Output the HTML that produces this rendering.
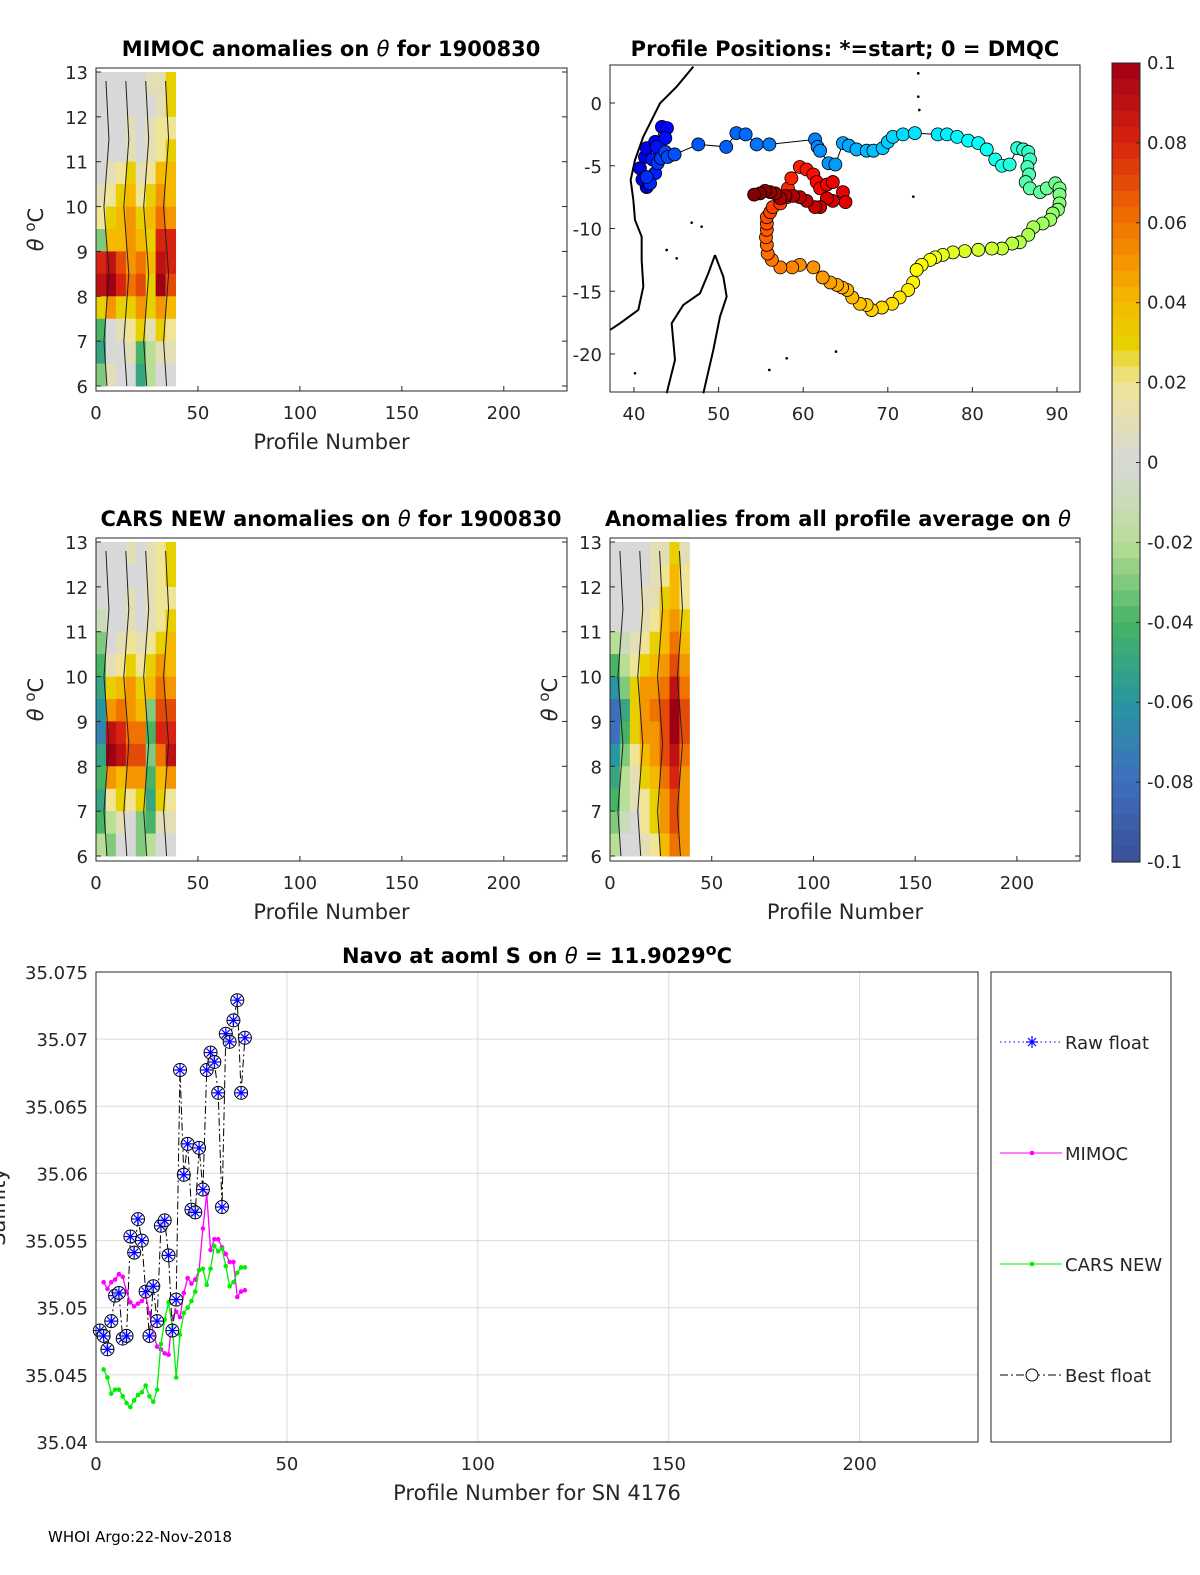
<!DOCTYPE html>
<html><head><meta charset="utf-8">
<style>
html,body{margin:0;padding:0;background:#fff;width:1200px;height:1575px;overflow:hidden}
svg{display:block;font-family:"DejaVu Sans","Liberation Sans",sans-serif}
.tk{font-size:18px;fill:#262626}
.ttl{font-size:21px;font-weight:bold;fill:#000}
.lab{font-size:21px;fill:#262626}
</style></head><body>
<svg id="fig" width="1200" height="1575" viewBox="0 0 1200 1575" xmlns="http://www.w3.org/2000/svg">
<g id="p1"></g>
<g id="p2"></g>
<g id="p3"></g>
<g id="p4"></g>
<g id="cb"></g>
<g id="p5"></g>
<text x="48" y="1542" font-size="15" fill="#000">WHOI Argo:22-Nov-2018</text>
</svg>
<script>
// ---- data ----
const profileTicks=[0,50,100,150,200];
const thetaTicks=[6,7,8,9,10,11,12,13];
const cbTicks=[0.1,0.08,0.06,0.04,0.02,0,-0.02,-0.04,-0.06,-0.08,-0.1];
const mimocGrid=[
[0,0,0,0,0,0.01,0.01,0.03],
[0,0,0,0,0,0,0.01,0.03],
[0,0,0,0.01,0,0.01,0.02,0.02],
[0,0,0,0.01,0,0.01,0.02,0.03],
[0,0.01,0.02,0.03,0.01,0.02,0.04,0.04],
[0.01,0.02,0.03,0.04,0.02,0.03,0.05,0.04],
[0.02,0.03,0.04,0.05,0.03,0.04,0.06,0.05],
[-0.03,0.04,0.04,0.05,0.04,0.03,0.08,0.08],
[0.08,0.09,0.07,0.05,0.06,0.04,0.09,0.08],
[0.09,0.1,0.08,0.06,0.07,0.03,0.1,0.07],
[0.03,0.05,0.03,0.03,0.05,0.03,0.05,0.04],
[-0.04,0,0.01,0.02,0.03,0.01,0.03,0.02],
[-0.05,0,0,0.01,-0.04,-0.02,0.01,0.01],
[-0.03,0.01,0,0,-0.05,-0.02,0,0]];
const carsGrid=[
[0,0,0,0.01,0,0.01,0.02,0.03],
[0,0,0,0,0,0.01,0.02,0.03],
[0,0,0,0.01,0,0.01,0.02,0.02],
[-0.01,0,0,0.01,0,0.01,0.02,0.03],
[-0.03,0,0.01,0.02,0.01,0.02,0.03,0.04],
[-0.04,0.01,0.02,0.03,0.02,0.03,0.05,0.04],
[-0.05,0.03,0.04,0.05,0.03,0.04,0.06,0.05],
[-0.06,0.05,0.06,0.05,0.04,-0.03,0.07,0.07],
[-0.07,0.09,0.08,0.06,0.06,-0.04,0.08,0.08],
[-0.05,0.1,0.09,0.07,0.07,-0.03,0.06,0.09],
[-0.04,0.05,0.04,0.05,0.05,-0.04,0.04,0.05],
[-0.05,0.02,0.03,0.02,0.03,-0.05,0.03,0.02],
[-0.04,-0.02,0.01,0,-0.03,-0.04,0.01,0.01],
[-0.02,-0.03,0,0,-0.03,-0.02,0,0]];
const allGrid=[
[0,0,0,0,0.01,0.01,0.03,0.01],
[0,0,0,0,0.01,0.02,0.04,0.02],
[0,0,0,0.01,0.01,0.03,0.04,0.02],
[0,0,0,0.01,0.02,0.04,0.05,0.03],
[-0.02,-0.01,0.01,0.02,0.03,0.04,0.06,0.04],
[-0.04,-0.02,0.02,0.03,0.04,0.05,0.07,0.05],
[-0.06,-0.03,0.03,0.05,0.05,0.06,0.09,0.06],
[-0.08,-0.05,0.03,0.05,0.06,0.07,0.1,0.07],
[-0.08,-0.04,0.03,0.05,0.05,0.07,0.1,0.07],
[-0.06,-0.03,0.02,0.04,0.05,0.07,0.09,0.06],
[-0.05,-0.02,0.01,0.03,0.04,0.06,0.08,0.05],
[-0.04,-0.02,0.01,0.02,0.03,0.05,0.07,0.05],
[-0.03,-0.01,0,0.02,0.03,0.05,0.07,0.05],
[-0.02,0,0,0.01,0.02,0.04,0.06,0.05]];
const trackLon=[41.5,41,40.7,41.3,41.5,42.5,43.3,43.9,43.7,42.7,42.2,42.5,41.9,41.5,42.8,43.2,43.7,44,44.8,47.6,50.9,52.1,53.2,54.5,56,61.4,61.7,62,63,63.8,64.7,65.4,66.3,67.5,68.3,69.4,70,70.6,71.8,73.2,75.9,77,78.2,79.5,80.7,81.7,82.7,83.5,84.4,85.3,86,86.6,86.8,86.5,86.7,86.3,86.8,88,88.8,89.8,90.3,90.3,90.3,90.1,89.5,89.2,88.3,87.2,86.6,85.6,84.7,83.5,82.3,80.7,79.1,77.7,76.5,75.6,75,74,73.4,73,72.4,71.4,70.5,69.3,68.1,67.5,66.7,65.8,65.2,64.6,64,63.2,62.3,61.2,59.6,58.7,57.3,56.3,55.8,55.7,55.6,55.7,55.7,55.7,56.1,56.4,57.3,58.1,58.2,58.6,59.6,60.4,61.2,61.6,62,62.8,63.5,64.7,65,63.5,62.8,62,61.4,60.4,59.6,58.8,57.9,57.3,56.7,56.1,55.5,54.9,54.2];
const trackLat=[-6.7,-6.1,-5.2,-4.3,-3.6,-3.1,-1.9,-2,-2.8,-3.5,-4.5,-5.6,-6.4,-5.9,-4.8,-4.4,-3.9,-4.3,-4.1,-3.3,-3.5,-2.4,-2.5,-3.3,-3.3,-2.9,-3.5,-3.8,-4.8,-4.9,-3.2,-3.4,-3.7,-3.8,-3.8,-3.6,-3.1,-2.7,-2.5,-2.4,-2.5,-2.5,-2.7,-3,-3.2,-3.7,-4.5,-5,-4.9,-3.6,-3.7,-3.9,-4.5,-5.1,-5.7,-6.3,-6.8,-7.1,-6.8,-6.4,-6.8,-7.3,-8,-8.5,-8.8,-9.3,-9.6,-9.9,-10.5,-11.1,-11.2,-11.6,-11.6,-11.7,-11.8,-11.9,-12.1,-12.3,-12.5,-12.9,-13.3,-14.3,-14.9,-15.5,-16,-16.3,-16.5,-16.1,-16,-15.5,-14.9,-14.7,-14.5,-14.3,-13.9,-13.1,-12.9,-13.1,-13.1,-12.5,-12,-11.3,-10.7,-10.1,-9.6,-9.1,-8.7,-8.3,-8,-7.5,-6.8,-6,-5.1,-5.3,-5.7,-6.3,-6.8,-6.5,-6.3,-7.1,-7.9,-7.8,-7.6,-8.3,-8.3,-7.8,-7.5,-7.4,-7.4,-7.6,-7.2,-7.1,-7,-7.2,-7.3];
const lonTicks=[40,50,60,70,80,90];
const latTicks=[0,-5,-10,-15,-20];
const salTicks=[35.04,35.045,35.05,35.055,35.06,35.065,35.07,35.075];
const salTickLabels=['35.04','35.045','35.05','35.055','35.06','35.065','35.07','35.075'];
const bestProfiles=[1,2,3,4,5,6,7,8,9,10,11,12,13,14,15,16,17,18,19,20,21,22,23,24,25,26,27,28,29,30,31,32,33,34,35,36,37,38,39];
const bestSal=[35.0483,35.0479,35.0469,35.0490,35.0509,35.0511,35.0477,35.0479,35.0553,35.0541,35.0566,35.0550,35.0512,35.0479,35.0516,35.0490,35.0561,35.0565,35.0539,35.0483,35.0506,35.0677,35.0599,35.0622,35.0573,35.0571,35.0619,35.0588,35.0677,35.0690,35.0683,35.0660,35.0575,35.0704,35.0698,35.0714,35.0729,35.0660,35.0701];
const modelProfiles=[2,3,4,5,6,7,8,9,10,11,12,13,14,15,16,17,18,19,20,21,22,23,24,25,26,27,28,29,30,31,32,33,34,35,36,37,38,39];
const mimocSal=[35.0519,35.0514,35.0519,35.0521,35.0525,35.0523,35.0512,35.0504,35.0501,35.0503,35.0505,35.0509,35.0496,35.0481,35.0471,35.0469,35.0466,35.0465,35.0493,35.0497,35.0493,35.0511,35.0522,35.0518,35.0521,35.0528,35.0559,35.0585,35.0543,35.0551,35.0551,35.0545,35.0540,35.0534,35.0534,35.0508,35.0512,35.0513];
const carsSal=[35.0454,35.0448,35.0436,35.0439,35.0439,35.0434,35.0429,35.0426,35.0431,35.0435,35.0437,35.0442,35.0434,35.0430,35.0439,35.0473,35.0491,35.0504,35.0486,35.0448,35.0480,35.0496,35.0500,35.0505,35.0512,35.0528,35.0529,35.0517,35.0529,35.0546,35.0542,35.0544,35.0531,35.0516,35.0519,35.0526,35.0530,35.0530];

// ---- helpers ----
const NS='http://www.w3.org/2000/svg';
function mk(parent,tag,attrs,txt){const e=document.createElementNS(NS,tag);for(const k in attrs)e.setAttribute(k,attrs[k]);if(txt!==undefined)e.textContent=txt;parent.appendChild(e);return e;}
const stops=[[-0.1,[58,80,150]],[-0.08,[62,110,190]],[-0.06,[40,150,160]],[-0.04,[70,180,100]],[-0.02,[185,222,150]],[0,[216,216,216]],[0.02,[240,228,150]],[0.03,[232,208,0]],[0.04,[245,185,0]],[0.06,[240,115,0]],[0.08,[215,35,15]],[0.1,[160,0,20]]];
function cmap(v){v=Math.max(-0.1,Math.min(0.1,v));for(let i=0;i<stops.length-1;i++){const a=stops[i],b=stops[i+1];if(v<=b[0]){const t=(v-a[0])/(b[0]-a[0]);const c=a[1].map((x,j)=>Math.round(x+(b[1][j]-x)*t));return `rgb(${c})`;}}return 'rgb(160,0,20)';}
function jet(t){const r=Math.max(0,Math.min(1,1.5-Math.abs(4*t-3))),g=Math.max(0,Math.min(1,1.5-Math.abs(4*t-2))),b=Math.max(0,Math.min(1,1.5-Math.abs(4*t-1)));return `rgb(${Math.round(r*255)},${Math.round(g*255)},${Math.round(b*255)})`;}

function anomalyPanel(g,L,T,R,B,grid,title,titleX,showY){
  const x=p=>L+p*(R-L)/231;
  const y=th=>T+4+(13-th)*(B-T-9)/7;
  const ncol=grid[0].length,nrow=grid.length,cw=39/ncol,rh=7/nrow;
  grid.forEach((row,i)=>row.forEach((v,j)=>{
    const c=mk(g,'rect',{x:x(j*cw),y:y(13-i*rh),width:x((j+1)*cw)-x(j*cw)+0.5,height:y(13-(i+1)*rh)-y(13-i*rh)+0.5,fill:cmap(v)});
    
    
  }));
  for(let j=1;j<ncol;j+=2){const xx=x(j*cw);const l=mk(g,'polyline',{points:`${xx},${y(12.8)} ${xx+3},${y(11.5)} ${xx-2},${y(10)} ${xx+3},${y(8.5)} ${xx-2},${y(7)} ${xx+1},${y(6)}`,fill:'none',stroke:'#222','stroke-width':1});}
  mk(g,'rect',{x:L,y:T,width:R-L,height:B-T,fill:'none',stroke:'#262626','stroke-width':1});
  profileTicks.forEach(p=>{mk(g,'line',{x1:x(p),y1:B,x2:x(p),y2:B-5,stroke:'#262626'});const t=mk(g,'text',{x:x(p),y:B+28,'text-anchor':'middle',class:'tk'},p);});
  thetaTicks.forEach(th=>{mk(g,'line',{x1:L,y1:y(th),x2:L+5,y2:y(th),stroke:'#262626'});mk(g,'line',{x1:R,y1:y(th),x2:R-5,y2:y(th),stroke:'#262626'});const t=mk(g,'text',{x:L-8,y:y(th)+7,'text-anchor':'end',class:'tk'},th);});
  const xl=mk(g,'text',{x:(L+R)/2,y:B+58,'text-anchor':'middle',class:'lab'},'Profile Number');
  if(showY){const yl=mk(g,'text',{x:0,y:0,'text-anchor':'middle',class:'lab',transform:`translate(${L-53},${(T+B)/2}) rotate(-90)`});yl.innerHTML='<tspan font-style="italic">θ</tspan> <tspan dy="-8" font-size="15">o</tspan><tspan dy="8">C</tspan>';}
  const tt=mk(g,'text',{x:titleX,y:T-12,'text-anchor':'middle',class:'ttl'});tt.innerHTML=title;
}
anomalyPanel(document.getElementById('p1'),96,68,567,391,mimocGrid,'MIMOC anomalies on <tspan font-style="italic" font-weight="normal">θ</tspan>  for 1900830',331,true);
anomalyPanel(document.getElementById('p3'),96,538,567,861,carsGrid,'CARS NEW anomalies on <tspan font-style="italic" font-weight="normal">θ</tspan> for 1900830',331,true);
anomalyPanel(document.getElementById('p4'),610,538,1080,861,allGrid,'Anomalies from all profile average on <tspan font-style="italic" font-weight="normal">θ</tspan>',838,true);

// ---- map ----
(function(){
  const g=document.getElementById('p2');const L=610,T=65,R=1080,B=392;
  const x=lon=>634+(lon-40)*8.46, y=lat=>103-lat*12.55;
  const coast=mk(g,'g',{transform:'translate(600,60) scale(0.3333)',fill:'none',stroke:'#000','stroke-width':6});
  
  mk(coast,'polyline',{points:'280,20 230,80 180,130 150,190 130,230 105,300 92,360 100,420 105,480 125,530 125,600 130,680 115,750 60,790 30,810'});
  mk(coast,'polyline',{points:'345,585 325,640 300,700 250,735 215,790 225,900 200,1000'});
  mk(coast,'polyline',{points:'345,585 370,650 380,710 360,770 340,870 310,1000'});
  [[955,40],[955,110],[958,150],[940,410],[275,488],[305,500],[200,570],[230,595],[560,895],[508,930],[708,875],[105,940]].forEach(p=>mk(coast,'circle',{cx:p[0],cy:p[1],r:4,fill:'#000',stroke:'none'}));
  const pts=trackLon.map((lo,i)=>`${x(lo)},${y(trackLat[i])}`).join(' ');
  const ln=mk(g,'polyline',{points:pts,fill:'none',stroke:'#000','stroke-width':1});
  const n=trackLon.length;
  trackLon.forEach((lo,i)=>{const c=mk(g,'circle',{cx:x(lo),cy:y(trackLat[i]),r:6.5,fill:jet(0.08+0.92*i/(n-1)),stroke:'#000','stroke-width':0.8});});
  mk(g,'rect',{x:L,y:T,width:R-L,height:B-T,fill:'none',stroke:'#262626'});
  lonTicks.forEach(v=>{mk(g,'line',{x1:x(v),y1:B,x2:x(v),y2:B-5,stroke:'#262626'});const t=mk(g,'text',{x:x(v),y:B+28,'text-anchor':'middle',class:'tk'},v);});
  latTicks.forEach(v=>{mk(g,'line',{x1:L,y1:y(v),x2:L+5,y2:y(v),stroke:'#262626'});const t=mk(g,'text',{x:L-8,y:y(v)+7,'text-anchor':'end',class:'tk'},v);});
  const tt=mk(g,'text',{x:845,y:56,'text-anchor':'middle',class:'ttl'},'Profile Positions: *=start; 0 = DMQC');
})();

// ---- colorbar ----
(function(){
  const g=document.getElementById('cb');const L=1112,W=28,T=63,B=862;
  const y=v=>T+(0.1-v)/0.2*(B-T);
  for(let k=0;k<50;k++){const v=0.1-(k+0.5)*0.004;const r=mk(g,'rect',{x:L,y:y(v+0.002),width:W,height:(B-T)/50+0.6,fill:cmap(v)});}
  mk(g,'rect',{x:L,y:T,width:W,height:B-T,fill:'none',stroke:'#262626'});
  cbTicks.forEach(v=>{mk(g,'line',{x1:L+W,y1:y(v),x2:L+W-4,y2:y(v),stroke:'#262626'});const t=mk(g,'text',{x:L+W+7,y:y(v)+6,class:'tk','font-size':'17'},String(v));});
})();

// ---- salinity panel ----
(function(){
  const g=document.getElementById('p5');const L=96,T=972,R=978,B=1442;
  const x=p=>L+p*(R-L)/231, y=s=>B-(s-35.04)/0.035*(B-T);
  salTicks.forEach((s,i)=>{mk(g,'line',{x1:L,y1:y(s),x2:R,y2:y(s),stroke:'#dcdcdc'});const t=mk(g,'text',{x:L-8,y:y(s)+7,'text-anchor':'end',class:'tk'},salTickLabels[i]);});
  profileTicks.forEach(p=>{mk(g,'line',{x1:x(p),y1:T,x2:x(p),y2:B,stroke:'#dcdcdc'});const t=mk(g,'text',{x:x(p),y:B+28,'text-anchor':'middle',class:'tk'},p);});
  const mp=mk(g,'polyline',{points:modelProfiles.map((p,i)=>`${x(p)},${y(mimocSal[i])}`).join(' '),fill:'none',stroke:'#ff00ff','stroke-width':1.3});
  modelProfiles.forEach((p,i)=>{const c=mk(g,'circle',{cx:x(p),cy:y(mimocSal[i]),r:2.3,fill:'#ff00ff'});});
  const cp=mk(g,'polyline',{points:modelProfiles.map((p,i)=>`${x(p)},${y(carsSal[i])}`).join(' '),fill:'none',stroke:'#00ee00','stroke-width':1.3});
  modelProfiles.forEach((p,i)=>{const c=mk(g,'circle',{cx:x(p),cy:y(carsSal[i]),r:2.3,fill:'#00ee00'});});
  const bp=mk(g,'polyline',{points:bestProfiles.map((p,i)=>`${x(p)},${y(bestSal[i])}`).join(' '),fill:'none',stroke:'#000','stroke-width':1,'stroke-dasharray':'8,3,2,3'});
  bestProfiles.forEach((p,i)=>{const cx=x(p),cy=y(bestSal[i]);const m=mk(g,'g',{});
    mk(m,'circle',{cx,cy,r:6.5,fill:'#fff','fill-opacity':0.6,stroke:'#000','stroke-width':1});
    mk(m,'path',{d:`M${cx-6},${cy}H${cx+6}M${cx},${cy-6}V${cy+6}M${cx-4},${cy-4}L${cx+4},${cy+4}M${cx-4},${cy+4}L${cx+4},${cy-4}`,stroke:'#0000ff','stroke-width':1.2});});
  mk(g,'rect',{x:L,y:T,width:R-L,height:B-T,fill:'none',stroke:'#262626'});
  const tt=mk(g,'text',{x:537,y:963,'text-anchor':'middle',class:'ttl'});tt.innerHTML='Navo at aoml S on <tspan font-style="italic" font-weight="normal">θ</tspan> = 11.9029<tspan dy="-8" font-size="16">o</tspan><tspan dy="8">C</tspan>';
  const xl=mk(g,'text',{x:537,y:1500,'text-anchor':'middle',class:'lab'},'Profile Number for SN 4176');
  const yl=mk(g,'text',{x:0,y:0,'text-anchor':'middle',class:'lab',transform:'translate(5,1207) rotate(-90)'},'Salinity');
  const lg=mk(g,'g',{});
  mk(lg,'rect',{x:991,y:972,width:180,height:470,fill:'#fff',stroke:'#262626'});
  const ent=[[1042,'Raw float'],[1153,'MIMOC'],[1264,'CARS NEW'],[1375,'Best float']];
  ent.forEach((e,i)=>{const eg=mk(lg,'g',{});
    const yy=e[0],cx=1032;
    if(i===0){mk(eg,'line',{x1:1000,y1:yy,x2:1062,y2:yy,stroke:'#0000ff','stroke-dasharray':'1.5,3'});mk(eg,'path',{d:`M${cx-6},${yy}H${cx+6}M${cx},${yy-6}V${yy+6}M${cx-4},${yy-4}L${cx+4},${yy+4}M${cx-4},${yy+4}L${cx+4},${yy-4}`,stroke:'#0000ff','stroke-width':1.2});}
    if(i===1){mk(eg,'line',{x1:1000,y1:yy,x2:1062,y2:yy,stroke:'#ff00ff'});mk(eg,'circle',{cx,cy:yy,r:2.3,fill:'#ff00ff'});}
    if(i===2){mk(eg,'line',{x1:1000,y1:yy,x2:1062,y2:yy,stroke:'#00ee00'});mk(eg,'circle',{cx,cy:yy,r:2.3,fill:'#00ee00'});}
    if(i===3){mk(eg,'line',{x1:1000,y1:yy,x2:1062,y2:yy,stroke:'#000','stroke-dasharray':'8,3,2,3'});mk(eg,'circle',{cx,cy:yy,r:6,fill:'#fff',stroke:'#000'});}
    mk(eg,'text',{x:1065,y:yy+7,class:'tk'},e[1]);});
})();
</script>
</body></html>
